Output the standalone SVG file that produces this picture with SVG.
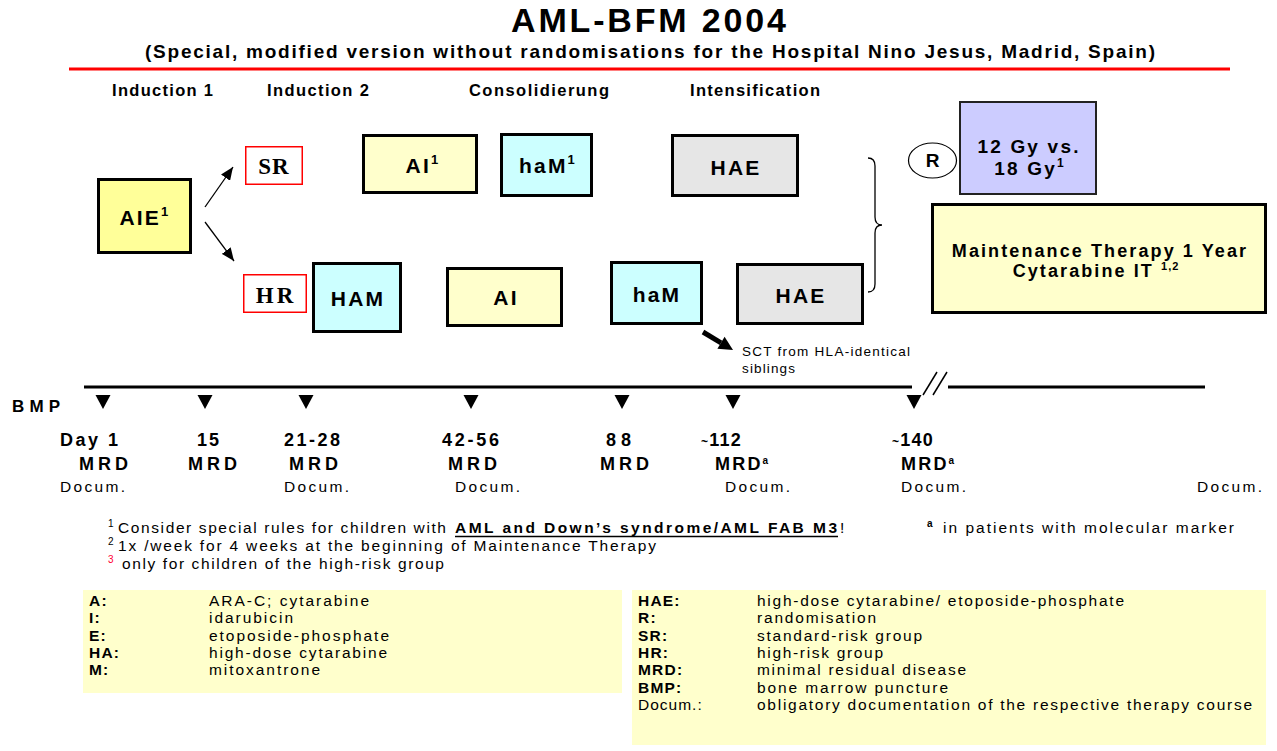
<svg xmlns="http://www.w3.org/2000/svg" width="1277" height="751" viewBox="0 0 1277 751">
<defs>
<style>
text{font-family:"Liberation Sans",Arial,Helvetica,sans-serif;fill:#000}
.b{font-weight:bold}
.box{stroke:#000;stroke-width:3}
.lbl{font-weight:bold;font-size:21px;letter-spacing:2.2px;text-anchor:middle}
.ser{font-family:"Liberation Serif","Times New Roman",serif;font-weight:bold;font-size:23px;text-anchor:middle}
.risk{fill:#fff;stroke:#f00;stroke-width:1.5}
.tri{fill:#000}
.row{font-size:18px;font-weight:bold}
.doc{font-size:15.5px}
.fn{font-size:15.5px}
.lg{font-size:15.5px}
.lgk{font-size:15.5px;font-weight:bold;letter-spacing:1.2px}
.conn{stroke:#000;stroke-width:1.3;fill:none}
</style>
<marker id="ah" markerUnits="userSpaceOnUse" markerWidth="13" markerHeight="11" refX="13" refY="5.5" orient="auto"><path d="M0,0 L13,5.5 L0,11 z" fill="#000"/></marker>
</defs>
<rect width="1277" height="751" fill="#fff"/>

<g id="header">
<text class="b" x="511" y="32" font-size="34" textLength="275" lengthAdjust="spacing">AML-BFM 2004</text>
<text class="b" x="145" y="58" font-size="19" textLength="1010" lengthAdjust="spacing">(Special, modified version without randomisations for the Hospital Nino Jesus, Madrid, Spain)</text>
<line x1="69" y1="69" x2="1230" y2="69" stroke="#f00" stroke-width="3"/>
</g>

<g id="phases">
<text class="b" x="112" y="96" font-size="16.5" textLength="101" lengthAdjust="spacing">Induction 1</text>
<text class="b" x="267" y="96" font-size="16.5" textLength="102" lengthAdjust="spacing">Induction 2</text>
<text class="b" x="469" y="96" font-size="16.5" textLength="140" lengthAdjust="spacing">Consolidierung</text>
<text class="b" x="690" y="96" font-size="16.5" textLength="130" lengthAdjust="spacing">Intensification</text>
</g>

<g id="node-AIE"><rect class="box" x="98.5" y="179.5" width="92" height="73" fill="#ffff99"/><text class="lbl" x="145" y="225" font-size="22">AIE<tspan font-size="13" dy="-9">1</tspan></text></g>
<g id="node-SR"><rect class="risk" x="245.75" y="146.75" width="56.5" height="37.5"/><text class="ser" x="274" y="174" letter-spacing="1">SR</text></g>
<g id="node-HR"><rect class="risk" x="243.75" y="274.75" width="62.5" height="37.5"/><text class="ser" x="276" y="303" letter-spacing="3">HR</text></g>
<g id="node-AI1"><rect class="box" x="363.5" y="135.5" width="113" height="57" fill="#ffffcc"/><text class="lbl" x="423" y="173">AI<tspan font-size="13" dy="-9">1</tspan></text></g>
<g id="node-haM1"><rect class="box" x="501.5" y="134.5" width="90" height="61" fill="#ccffff"/><text class="lbl" x="548" y="173">haM<tspan font-size="13" dy="-9">1</tspan></text></g>
<g id="node-HAE1"><rect class="box" x="672.5" y="135.5" width="125" height="60" fill="#e6e6e6"/><text class="lbl" x="736" y="175">HAE</text></g>
<g id="node-HAM"><rect class="box" x="313.5" y="263.5" width="87" height="68" fill="#ccffff"/><text class="lbl" x="358" y="306" font-size="22">HAM</text></g>
<g id="node-AI"><rect class="box" x="447.5" y="268.5" width="114" height="57" fill="#ffffcc"/><text class="lbl" x="506" y="305">AI</text></g>
<g id="node-haM"><rect class="box" x="611.5" y="262.5" width="90" height="61" fill="#ccffff"/><text class="lbl" x="657" y="302">haM</text></g>
<g id="node-HAE2"><rect class="box" x="737.5" y="264.5" width="125" height="59" fill="#e6e6e6"/><text class="lbl" x="801" y="303">HAE</text></g>
<g id="node-R"><ellipse cx="932.5" cy="160.5" rx="24" ry="17.5" fill="#fff" stroke="#000" stroke-width="1.2"/><text class="b" x="932.5" y="167" font-size="19" text-anchor="middle">R</text></g>
<g id="node-Gy"><rect x="960" y="102" width="136" height="92" fill="#ccccff" stroke="#222" stroke-width="2"/>
<text class="b" x="1029" y="153" font-size="19" text-anchor="middle" letter-spacing="2.2">12 Gy vs.</text>
<text class="b" x="1030" y="175" font-size="19" text-anchor="middle" letter-spacing="2.2">18 Gy<tspan font-size="12" dy="-8">1</tspan></text></g>
<g id="node-Maint"><rect class="box" x="932.5" y="204.5" width="333" height="108" fill="#ffffcc"/>
<text class="b" x="1100" y="257" font-size="18" text-anchor="middle" letter-spacing="2.1">Maintenance Therapy 1 Year</text>
<text class="b" x="1096" y="277" font-size="18" text-anchor="middle" letter-spacing="2.1">Cytarabine IT <tspan font-size="11" dy="-7" letter-spacing="1">1,2</tspan></text></g>
<g id="node-SCT">
<text x="742" y="356" font-size="13.5" textLength="168" lengthAdjust="spacing">SCT from HLA-identical</text>
<text x="742" y="373" font-size="13.5" textLength="53" lengthAdjust="spacing">siblings</text>
</g>

<g id="connectors">
<line class="conn" x1="205" y1="207" x2="233" y2="167" marker-end="url(#ah)"/>
<line class="conn" x1="205" y1="222" x2="234" y2="261" marker-end="url(#ah)"/>
<path class="conn" d="M868,158 Q875,158 875,166 L875,217 Q875,225 882,225 Q875,225 875,233 L875,284 Q875,292 868,292"/>
<line x1="703" y1="332" x2="721" y2="342.8" stroke="#000" stroke-width="5"/>
<polygon points="733,350 717.4,348.8 724.6,336.8" fill="#000"/>
</g>

<g id="timeline">
<line x1="84" y1="387" x2="912" y2="387" stroke="#000" stroke-width="3"/>
<line x1="948" y1="387" x2="1205" y2="387" stroke="#000" stroke-width="3"/>
<line x1="923" y1="395" x2="937" y2="372" stroke="#000" stroke-width="1.5"/>
<line x1="933" y1="395" x2="947" y2="372" stroke="#000" stroke-width="1.5"/>
<polygon class="tri" points="95.5,395 110.5,395 103,409"/>
<polygon class="tri" points="197.5,395 212.5,395 205,409"/>
<polygon class="tri" points="298.5,395 313.5,395 306,409"/>
<polygon class="tri" points="463.5,395 478.5,395 471,409"/>
<polygon class="tri" points="614.5,395 629.5,395 622,409"/>
<polygon class="tri" points="725.5,395 740.5,395 733,409"/>
<polygon class="tri" points="906.5,395 921.5,395 914,409"/>
<text class="b" x="12" y="412" font-size="17" textLength="48" lengthAdjust="spacing">BMP</text>

<text class="row" x="60" y="446" textLength="58" lengthAdjust="spacing">Day 1</text>
<text class="row" x="197" y="446" textLength="22" lengthAdjust="spacing">15</text>
<text class="row" x="284" y="446" textLength="56" lengthAdjust="spacing">21-28</text>
<text class="row" x="442" y="446" textLength="57" lengthAdjust="spacing">42-56</text>
<text class="row" x="606" y="446" textLength="25" lengthAdjust="spacing">88</text>
<text class="row" x="701" y="446" letter-spacing="1.2"><tspan font-size="12">~</tspan>112</text>
<text class="row" x="892" y="446" letter-spacing="1.2"><tspan font-size="12">~</tspan>140</text>

<text class="row" x="79" y="470" textLength="49" lengthAdjust="spacing">MRD</text>
<text class="row" x="188" y="470" textLength="49" lengthAdjust="spacing">MRD</text>
<text class="row" x="289" y="470" textLength="49" lengthAdjust="spacing">MRD</text>
<text class="row" x="448" y="470" textLength="49" lengthAdjust="spacing">MRD</text>
<text class="row" x="600" y="470" textLength="49" lengthAdjust="spacing">MRD</text>
<text class="row" x="715" y="470" letter-spacing="2.2">MRD<tspan font-size="10" dy="-6">a</tspan></text>
<text class="row" x="901" y="470" letter-spacing="2.2">MRD<tspan font-size="10" dy="-6">a</tspan></text>

<text class="doc" x="60" y="492" textLength="65" lengthAdjust="spacing">Docum.</text>
<text class="doc" x="284" y="492" textLength="65" lengthAdjust="spacing">Docum.</text>
<text class="doc" x="455" y="492" textLength="65" lengthAdjust="spacing">Docum.</text>
<text class="doc" x="725" y="492" textLength="65" lengthAdjust="spacing">Docum.</text>
<text class="doc" x="901" y="492" textLength="65" lengthAdjust="spacing">Docum.</text>
<text class="doc" x="1197" y="492" textLength="65" lengthAdjust="spacing">Docum.</text>
</g>

<g id="footnotes">
<text x="108" y="527" font-size="10">1</text>
<text class="fn" x="118" y="533" textLength="328" lengthAdjust="spacing">Consider special rules for children with</text>
<text class="fn b" x="455" y="533" textLength="382" lengthAdjust="spacing">AML and Down’s syndrome/AML FAB M3</text>
<line x1="455" y1="536.5" x2="838" y2="536.5" stroke="#000" stroke-width="1.5"/>
<text class="fn" x="840" y="533">!</text>
<text x="927" y="527" font-size="10" font-weight="bold">a</text>
<text class="fn" x="943" y="533" textLength="291" lengthAdjust="spacing">in patients with molecular marker</text>
<text x="108" y="545" font-size="10">2</text>
<text class="fn" x="118" y="551" textLength="538" lengthAdjust="spacing">1x /week for 4 weeks at the beginning of Maintenance Therapy</text>
<text x="108" y="563" font-size="10" style="fill:#f03">3</text>
<text class="fn" x="122" y="569" textLength="322" lengthAdjust="spacing">only for children of the high-risk group</text>
</g>

<g id="legend-left">
<rect x="83" y="590" width="539" height="103" fill="#ffffcc"/>
<text class="lgk" x="89" y="606">A:</text><text class="lg" x="209" y="606" textLength="160" lengthAdjust="spacing">ARA-C; cytarabine</text>
<text class="lgk" x="89" y="623">I:</text><text class="lg" x="209" y="623" textLength="84" lengthAdjust="spacing">idarubicin</text>
<text class="lgk" x="89" y="641">E:</text><text class="lg" x="209" y="641" textLength="180" lengthAdjust="spacing">etoposide-phosphate</text>
<text class="lgk" x="89" y="658">HA:</text><text class="lg" x="209" y="658" textLength="178" lengthAdjust="spacing">high-dose cytarabine</text>
<text class="lgk" x="89" y="675">M:</text><text class="lg" x="209" y="675" textLength="111" lengthAdjust="spacing">mitoxantrone</text>
</g>

<g id="legend-right">
<rect x="632" y="590" width="634" height="155" fill="#ffffcc"/>
<text class="lgk" x="638" y="606">HAE:</text><text class="lg" x="757" y="606" textLength="367" lengthAdjust="spacing">high-dose cytarabine/ etoposide-phosphate</text>
<text class="lgk" x="638" y="623">R:</text><text class="lg" x="757" y="623" textLength="119" lengthAdjust="spacing">randomisation</text>
<text class="lgk" x="638" y="641">SR:</text><text class="lg" x="757" y="641" textLength="165" lengthAdjust="spacing">standard-risk group</text>
<text class="lgk" x="638" y="658">HR:</text><text class="lg" x="757" y="658" textLength="126" lengthAdjust="spacing">high-risk group</text>
<text class="lgk" x="638" y="675">MRD:</text><text class="lg" x="757" y="675" textLength="209" lengthAdjust="spacing">minimal residual disease</text>
<text class="lgk" x="638" y="693">BMP:</text><text class="lg" x="757" y="693" textLength="191" lengthAdjust="spacing">bone marrow puncture</text>
<text class="lg" x="638" y="710" letter-spacing="1">Docum.:</text><text class="lg" x="757" y="710" textLength="495" lengthAdjust="spacing">obligatory documentation of the respective therapy course</text>
</g>
</svg>
